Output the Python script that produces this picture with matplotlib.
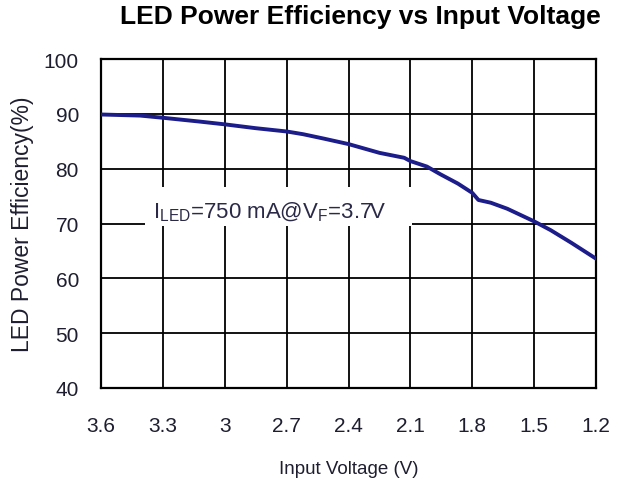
import matplotlib
matplotlib.use('Agg')
import matplotlib.pyplot as plt
from matplotlib.patches import Rectangle

plt.rcParams['font.family'] = ['Liberation Sans', 'DejaVu Sans']
plt.rcParams['mathtext.fontset'] = 'custom'
plt.rcParams['mathtext.rm'] = 'Liberation Sans'
plt.rcParams['mathtext.it'] = 'Liberation Sans'

# curve
vin = [3.60, 3.41, 3.30, 3.12, 3.00, 2.85, 2.70, 2.62, 2.52, 2.40, 2.25, 2.13,
       2.10, 2.02, 1.955, 1.87, 1.80, 1.77, 1.71, 1.63, 1.50, 1.42, 1.32, 1.20]
eff = [89.9, 89.7, 89.3, 88.6, 88.1, 87.4, 86.8, 86.3, 85.5, 84.5, 82.9, 82.0,
       81.4, 80.4, 79.0, 77.3, 75.6, 74.3, 73.8, 72.7, 70.4, 68.8, 66.5, 63.6]

x_ticks = [3.6, 3.3, 3.0, 2.7, 2.4, 2.1, 1.8, 1.5, 1.2]
x_labels = ['3.6', '3.3', '3', '2.7', '2.4', '2.1', '1.8', '1.5', '1.2']
y_ticks = [40, 50, 60, 70, 80, 90, 100]

fig = plt.figure(figsize=(6.32, 4.85), dpi=100)
ax = fig.add_axes([0.160, 0.198, 0.783, 0.678])

ax.plot(vin, eff, color='#1c1c8a', lw=2.8, zorder=4, solid_capstyle='round')

ax.set_xlim(3.6, 1.2)
ax.set_ylim(40, 100)
ax.set_xticks(x_ticks)
ax.set_xticklabels(x_labels)
ax.set_yticks(y_ticks)
ax.grid(True, color='black', lw=1.3, zorder=1)
ax.set_axisbelow(True)
for s in ax.spines.values():
    s.set_linewidth(1.6)
ax.tick_params(length=0, labelsize=15, labelcolor='#1e1e30')
ax.tick_params(axis='x', pad=20)
ax.tick_params(axis='y', pad=16)

# white box behind the annotation breaks the grid lines
ax.add_patch(Rectangle((3.387, 69.5), 2.092 - 3.387, 7.1, facecolor='white',
                       edgecolor='none', zorder=2))
ax.text(3.35, 72.3, r'I$_{\mathrm{LED}}$=750 mA@V$_{\mathrm{F}}$=3.7V',
        fontsize=16, color='#2a2a48', ha='left', va='center', zorder=3)

ax.set_title('LED Power Efficiency vs Input Voltage', fontsize=19,
             fontweight='bold', pad=26, x=0.524)
ax.set_xlabel('Input Voltage (V)', fontsize=13.5, color='#1e1e30', labelpad=18)
ax.set_ylabel('LED Power Efficiency(%)', fontsize=16.5, color='#1e1e30', labelpad=7)

fig.savefig('out.png', dpi=100)
